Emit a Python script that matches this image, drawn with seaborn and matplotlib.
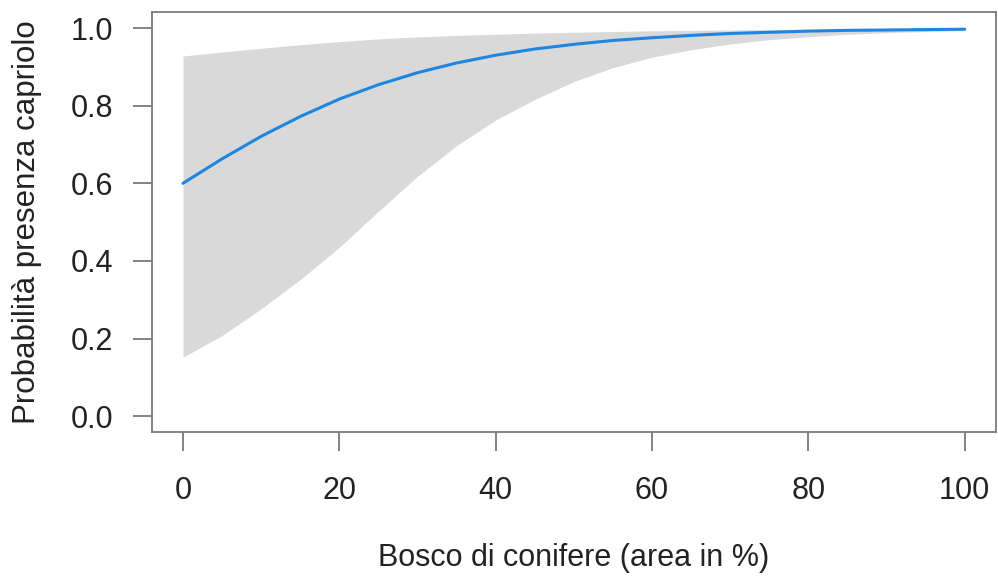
import matplotlib
matplotlib.use("Agg")
import matplotlib.pyplot as plt
import seaborn as sns
import pandas as pd

# Data
x_vals = [0, 5, 10, 15, 20, 25, 30, 35, 40, 45, 50, 55, 60, 65, 70, 75, 80, 85, 90, 95, 100]
fit = [0.600, 0.663, 0.721, 0.772, 0.817, 0.854, 0.885, 0.910, 0.930, 0.946, 0.958,
       0.968, 0.975, 0.981, 0.986, 0.989, 0.992, 0.994, 0.995, 0.996, 0.997]
lower = [0.152, 0.208, 0.277, 0.352, 0.435, 0.528, 0.618, 0.697, 0.763, 0.816, 0.862,
         0.898, 0.925, 0.944, 0.959, 0.970, 0.978, 0.984, 0.988, 0.991, 0.993]
upper = [0.928, 0.938, 0.948, 0.957, 0.965, 0.972, 0.977, 0.981, 0.984, 0.987, 0.989,
         0.991, 0.993, 0.994, 0.995, 0.996, 0.997, 0.998, 0.998, 0.999, 0.999]
x_ticks = [0, 20, 40, 60, 80, 100]
y_ticks = [0.0, 0.2, 0.4, 0.6, 0.8, 1.0]

df = pd.DataFrame({"x": x_vals, "fit": fit, "lower": lower, "upper": upper})

sns.set_style("ticks")
plt.rcParams["font.family"] = ["Liberation Sans", "DejaVu Sans"]

fig = plt.figure(figsize=(9.98, 5.77), dpi=100)
ax = fig.add_axes([0.152, 0.251, 0.846, 0.728])

ax.fill_between(df["x"], df["lower"], df["upper"], color="#d9d9d9", linewidth=0, zorder=1)
sns.lineplot(data=df, x="x", y="fit", ax=ax, color="#1f86e0", linewidth=2.2, zorder=2)

ax.set_xlim(-4, 104)
ax.set_ylim(-0.041, 1.041)
ax.set_xticks(x_ticks)
ax.set_xticklabels([str(t) for t in x_ticks])
ax.set_yticks(y_ticks)
ax.set_yticklabels([f"{t:.1f}" for t in y_ticks])

for s in ax.spines.values():
    s.set_color("#7a7a7a")
    s.set_linewidth(1.3)
ax.tick_params(axis="both", length=13.5, width=1.3, color="#7a7a7a", labelsize=22, labelcolor="#222222")
ax.tick_params(axis="x", pad=18)
ax.tick_params(axis="y", pad=14)

ax.set_xlabel("Bosco di conifere (area in %)", fontsize=22, color="#222222", labelpad=27)
ax.set_ylabel("Probabilità presenza capriolo", fontsize=22.5, color="#222222", labelpad=21)

fig.savefig("out.png", dpi=100)
